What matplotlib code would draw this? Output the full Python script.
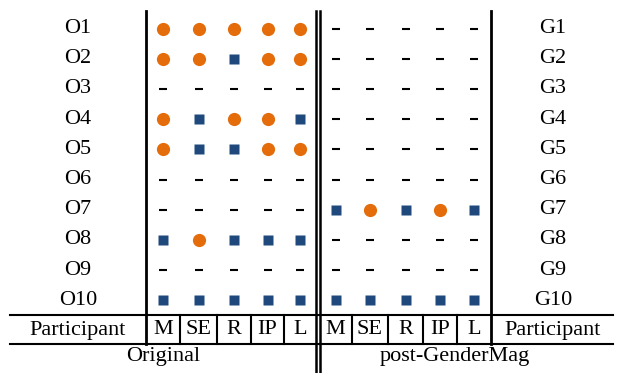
import matplotlib
matplotlib.use("Agg")
import matplotlib.pyplot as plt

# categories
columns = ["M", "SE", "R", "IP", "L"]
orig_rows = ["O1", "O2", "O3", "O4", "O5", "O6", "O7", "O8", "O9", "O10"]
gm_rows = ["G1", "G2", "G3", "G4", "G5", "G6", "G7", "G8", "G9", "G10"]

# c = circle, s = square, - = none
orig_vals = [
    "ccccc",
    "ccscc",
    "-----",
    "csccs",
    "csscc",
    "-----",
    "-----",
    "scsss",
    "-----",
    "sssss",
]
gm_vals = [
    "-----",
    "-----",
    "-----",
    "-----",
    "-----",
    "-----",
    "scscs",
    "-----",
    "-----",
    "sssss",
]

ORANGE = "#E46C0A"
BLUE = "#1F497D"

W, H = 623, 373
fig = plt.figure(figsize=(W / 100, H / 100), dpi=100)
ax = fig.add_axes([0, 0, 1, 1])
ax.set_xlim(0, W)
ax.set_ylim(H, 0)
ax.axis("off")

font = dict(family="Liberation Serif", fontsize=16, color="black")

# layout (pixels)
row_y0, row_dy = 28.5, 30.2
head_y, foot_y = 329, 357
left_grid = [146, 180, 217, 251, 284, 316]
right_grid = [319, 352, 388, 423, 457, 491]
table_l, table_r = 10, 613
line_a, line_b = 315, 344


def centers(edges):
    return [(edges[i] + edges[i + 1]) / 2 for i in range(len(edges) - 1)]


def draw_group(vals, edges):
    xs = centers(edges)
    for r, row in enumerate(vals):
        y = row_y0 + r * row_dy
        for c, v in enumerate(row):
            if v == "c":
                ax.plot(xs[c], y, "o", color=ORANGE, ms=9.5, mec="none")
            elif v == "s":
                ax.plot(xs[c], y, "s", color=BLUE, ms=7.8, mec="none")
            else:
                ax.plot(xs[c], y, "_", color="black", ms=5.5, mew=1.5)
    for c, name in enumerate(columns):
        ax.text(xs[c], head_y + 1, name, ha="center", va="center", **font)


draw_group(orig_vals, left_grid)
draw_group(gm_vals, right_grid)

for r in range(len(orig_rows)):
    y = row_y0 + r * row_dy
    ax.text(78, y, orig_rows[r], ha="center", va="center", **font)
    ax.text(553, y, gm_rows[r], ha="center", va="center", **font)

ax.text(78, head_y + 1, "Participant", ha="center", va="center", **font)
ax.text(553, head_y + 1, "Participant", ha="center", va="center", **font)
ax.text(163, foot_y, "Original", ha="center", va="center", **font)
ax.text(455, foot_y, "post-GenderMag", ha="center", va="center", **font)

# horizontal rules
ax.plot([table_l, table_r], [line_a, line_a], color="black", lw=1.5)
ax.plot([table_l, table_r], [line_b, line_b], color="black", lw=1.5)

# vertical rules
ax.plot([146, 146], [11, line_b], color="black", lw=2)
ax.plot([491, 491], [11, line_b], color="black", lw=2)
ax.plot([316, 316], [11, H], color="black", lw=1.8)
ax.plot([319.5, 319.5], [11, H], color="black", lw=1.8)
for x in left_grid[1:-1] + right_grid[1:-1]:
    ax.plot([x, x], [line_a, line_b], color="black", lw=1.5)

fig.savefig("out.png", dpi=100)
